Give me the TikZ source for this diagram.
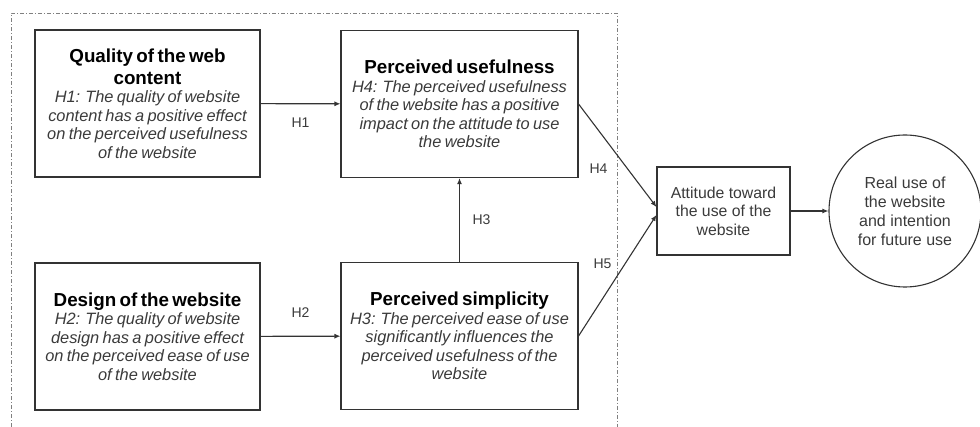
\documentclass[tikz,border=0pt]{standalone}
\usepackage{fontspec}
\setmainfont{Liberation Sans}
\usetikzlibrary{arrows.meta}

\definecolor{linegray}{HTML}{333333}
\definecolor{textgray}{HTML}{3A3A3A}

\newcommand{\hyptext}[2]{%
  {\fontsize{18.8}{22}\selectfont\bfseries #1\par}%
  {\fontsize{16.4}{18.6}\selectfont\itshape\color{textgray}#2\par}}

\tikzset{
  hypbox/.style={draw=linegray, line width=1.1pt, inner xsep=1pt, inner ysep=0pt,
    align=center, minimum height=147pt},
  plainbox/.style={draw=linegray, line width=1.1pt, inner sep=0pt, align=center,
    font=\fontsize{15.8}{18.5}\selectfont, text=textgray},
  link/.style={draw=linegray, line width=1.1pt, -{Latex[length=6pt,width=5pt]}},
  hlabel/.style={font=\fontsize{14}{16}\selectfont, text=textgray}
}

\begin{document}
\begin{tikzpicture}[x=1pt,y=-1pt]
        \useasboundingbox (0,0) rectangle (980,427);
        \draw[gray, line width=.9pt, dash pattern=on 4pt off 2pt on 1pt off 2pt]
            (11,427) -- (11,13) -- (617,13) -- (617,427);
        \node[hypbox, text width=223pt] (content) at (147.5,103.5)
            {\hyptext{Quality of the web\\content}{H1: The quality of website\\content has a positive effect\\on the perceived usefulness\\of the website}};
        \node[hypbox, text width=235pt] (useful) at (459.5,104)
            {\hyptext{Perceived usefulness}{H4: The perceived usefulness\\of the website has a positive\\impact on the attitude to use\\the website}};
        \node[hypbox, text width=223pt] (design) at (147.5,336.5)
            {\hyptext{Design of the website}{H2: The quality of website\\design has a positive effect\\on the perceived ease of use\\of the website}};
        \node[hypbox, text width=235pt] (simple) at (459.5,336)
            {\hyptext{Perceived simplicity}{H3: The perceived ease of use\\significantly influences the\\perceived usefulness of the\\website}};
        \node[plainbox, minimum width=133pt, minimum height=88pt] (attitude) at (723.5,211)
            {Attitude toward\\the use of the\\website};
        \node[plainbox, circle, minimum size=152pt, font=\fontsize{16}{19}\selectfont] (realuse) at (905,211)
            {Real use of\\the website\\and intention\\for future use};
        \draw[link] (content) -- node[hlabel, yshift=-19pt] {H1} (useful);
        \draw[link] (design) -- node[hlabel, yshift=24pt] {H2} (simple);
        \draw[link] (simple) -- node[hlabel, xshift=22pt] {H3} (useful);
        \draw[link] (useful.east) -- node[hlabel, xshift=-19pt, yshift=-13pt] {H4} ([yshift=4pt]attitude.west);
        \draw[link] (simple.east) -- node[hlabel, xshift=-15pt, yshift=12pt] {H5} ([yshift=-4pt]attitude.west);
        \draw[link] (attitude) -- (realuse);
    \end{tikzpicture}
\end{document}
